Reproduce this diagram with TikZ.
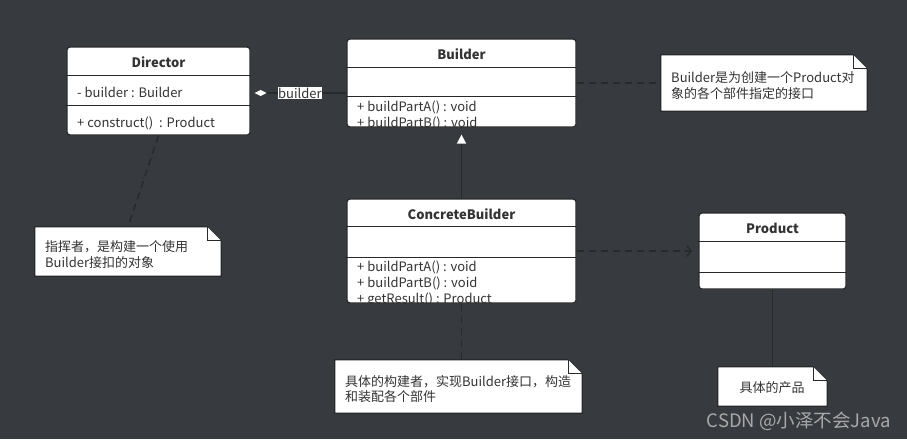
\documentclass[tikz,border=0pt]{standalone}
\usepackage{fontspec}
\setmainfont{Noto Sans CJK SC}
\usetikzlibrary{arrows.meta,calc}
\definecolor{bg}{HTML}{373B3F}
\definecolor{ln}{HTML}{28292B}
\definecolor{tx}{HTML}{333333}
\definecolor{wm}{HTML}{A8A8A8}
\newcommand\drawnote[1]{%
  \draw[notefill] (#1.south west) -- (#1.north west) -- ([xshift=-14pt]#1.north east) -- ([yshift=-14pt]#1.north east) -- (#1.south east) -- cycle;
  \draw[notefill] ([xshift=-14pt]#1.north east) |- ([yshift=-14pt]#1.north east);}
\begin{document}
\begin{tikzpicture}[x=1pt,y=-1pt,
  classbox/.style={draw=ln, line width=1.2pt, fill=white, rounded corners=3pt, inner sep=0pt},
  sepline/.style={draw=ln, line width=1.5pt},
  hdr/.style={font=\fontsize{13}{15}\selectfont\bfseries, text=tx},
  mem/.style={font=\fontsize{13}{16}\selectfont, text=tx, anchor=base west, inner sep=0pt},
  notegeom/.style={inner sep=0pt},
  notetext/.style={font=\fontsize{13}{15.5}\selectfont, text=tx, align=left, anchor=west, inner sep=0pt},
  notefill/.style={fill=white, draw=ln, line width=1.2pt},
  dashline/.style={draw=ln, line width=1.5pt, dash pattern=on 7pt off 5pt},
  solidline/.style={draw=ln, line width=1.5pt},
]
\fill[bg] (0,0) rectangle (907,439);
\useasboundingbox (0,0) rectangle (907,439);

% note geometry
\node[notegeom, minimum width=186pt, minimum height=49pt] (dnote) at (128,251.5) {};
\node[notegeom, minimum width=206pt, minimum height=56pt] (bnote) at (764,83) {};
\node[notegeom, minimum width=247pt, minimum height=53pt] (cbnote) at (458.5,386.5) {};
\node[notegeom, minimum width=109pt, minimum height=39pt] (pnote) at (772.5,386.5) {};

% class boxes
\node[classbox, minimum width=183pt, minimum height=88pt] (director) at (158.5,91) {};
\node[classbox, minimum width=229pt, minimum height=88pt] (builder) at (461.5,83) {};
\node[classbox, minimum width=229pt, minimum height=104pt] (cb) at (461.5,251) {};
\node[classbox, minimum width=147pt, minimum height=76pt] (product) at (772.5,251) {};

% connectors
\draw[dashline] (director.south) -- (dnote.north);
\draw[dashline] (builder.east) -- (bnote.west);
\draw[dashline] (cb.south) -- (cb.south |- cbnote.north);
\draw[solidline] (product.south) -- (pnote.north);
\draw[solidline, -{Triangle[color=white, length=9pt, width=9pt]}, shorten >=7pt] (cb.north) -- (builder.south);
\draw[dashline, -{Straight Barb[length=5pt, width=11pt, line width=1.3pt]}, shorten >=6pt] (cb.east) -- (product.west);
\draw[solidline, {Diamond[color=white, length=12pt, width=6pt]}-, shorten <=4pt]
  ([yshift=-2pt]director.east) -- node[pos=0.515, fill=white, inner sep=0.6pt, font=\fontsize{13}{15}\selectfont, text=tx] (agglabel) {builder} ([yshift=-2pt]director.east -| builder.west);

% Director
\draw[sepline] ($(director.north west)+(0,29)$) -- ($(director.north east)+(0,29)$);
\draw[sepline] ($(director.north west)+(0,59)$) -- ($(director.north east)+(0,59)$);
\node[hdr] (dirname) at ($(director.north)+(0,15.5)$) {Director};
\node[mem] (dirattr) at (77,97.5) {- builder : Builder};
\node[mem] (dirop) at (77,127.5) {+ construct()\ \ : Product};

% Builder
\draw[sepline] ($(builder.north west)+(0,29)$) -- ($(builder.north east)+(0,29)$);
\draw[sepline] ($(builder.north west)+(0,58)$) -- ($(builder.north east)+(0,58)$);
\node[hdr] (bname) at ($(builder.north)+(0,15.5)$) {Builder};
\begin{scope}
\clip (347,98) rectangle (576,126.5);
\node[mem] (bop1) at (357,111.5) {+ buildPartA() : void};
\node[mem] (bop2) at (357,127.5) {+ buildPartB() : void};
\end{scope}

% ConcreteBuilder
\draw[sepline] ($(cb.north west)+(0,28)$) -- ($(cb.north east)+(0,28)$);
\draw[sepline] ($(cb.north west)+(0,59)$) -- ($(cb.north east)+(0,59)$);
\node[hdr] (cbname) at ($(cb.north)+(0,15.5)$) {ConcreteBuilder};
\begin{scope}
\clip (347,259) rectangle (576,302.5);
\node[mem] (cbop1) at (357,271.5) {+ buildPartA() : void};
\node[mem] (cbop2) at (357,287.5) {+ buildPartB() : void};
\node[mem] (cbop3) at (357,303) {+ getResult() : Product};
\end{scope}

% Product
\draw[sepline] ($(product.north west)+(0,29)$) -- ($(product.north east)+(0,29)$);
\draw[sepline] ($(product.north west)+(0,60)$) -- ($(product.north east)+(0,60)$);
\node[hdr] (pname) at ($(product.north)+(0,16)$) {Product};

% notes
\drawnote{dnote}
\node[notetext] (dnotet) at (45,254.5) {指挥者，是构建一个使用\\Builder接扣的对象};
\drawnote{bnote}
\node[notetext] (bnotet) at (671,85.5) {Builder是为创建一个Product对\\象的各个部件指定的接口};
\drawnote{cbnote}
\node[notetext] (cbnotet) at (345,389) {具体的构建者，实现Builder接口，构造\\和装配各个部件};
\drawnote{pnote}
\node[notetext, anchor=center] (pnotet) at (772,388) {具体的产品};

% watermark
\node[font=\fontsize{18.5}{21}\selectfont, text=wm, anchor=base east, inner sep=0pt] (wmark) at (891,427) {CSDN @小泽不会Java};
\end{tikzpicture}
\end{document}
